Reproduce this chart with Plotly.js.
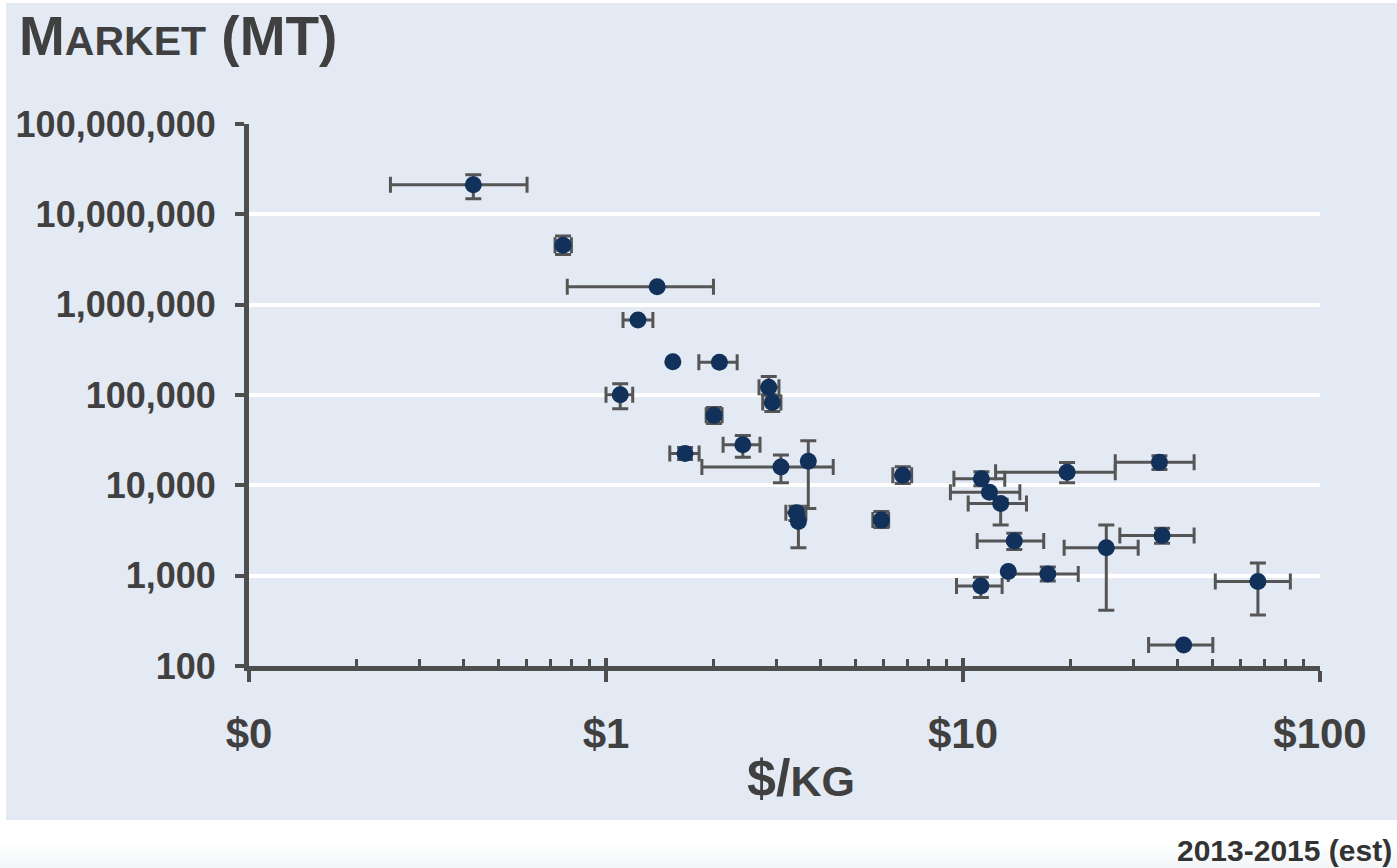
<!DOCTYPE html>
<html>
<head>
<meta charset="utf-8">
<script src="https://cdn.plot.ly/plotly-3.0.1.min.js"></script>
<style>
  html, body { margin: 0; padding: 0; background: #ffffff; }
  #wrap { position: relative; width: 1397px; height: 868px; overflow: hidden; }
  #bg { position: absolute; left: 6px; top: 3px; width: 1391px; height: 817px; background: #e3eaf4; }
  #fade { position: absolute; left: 0; top: 842px; width: 1397px; height: 26px;
          background: linear-gradient(#ffffff, #f2f4f6); }
  #chart { position: absolute; left: 0; top: 0; width: 1397px; height: 868px; }
</style>
</head>
<body>
<div id="wrap">
  <div id="bg"></div>
  <div id="fade"></div>
  <div id="chart"></div>
</div>
<script>
// Price ($/kg): central estimate, low and high of range
const price     = [0.425, 0.758, 1.391, 1.229, 1.539, 2.078, 1.096, 2.857, 2.923, 2.007, 2.417, 1.665, 3.09, 3.687, 3.415, 3.459, 6.78, 5.906, 11.26, 11.86, 12.75, 19.57, 35.5, 13.92, 25.2, 36.1, 13.39, 17.28, 11.22, 67.0, 41.5];
const priceLow  = [0.249, 0.72, 0.779, 1.116, 1.539, 1.82, 1.0, 2.683, 2.748, 1.908, 2.128, 1.509, 1.856, 3.687, 3.19, 3.459, 6.36, 5.59, 9.43, 9.22, 10.34, 12.34, 26.7, 10.96, 19.2, 27.5, 13.39, 13.39, 9.59, 50.9, 33.1];
const priceHigh = [0.601, 0.80, 2.0, 1.353, 1.539, 2.33, 1.188, 3.051, 3.09, 2.114, 2.70, 1.823, 4.33, 3.687, 3.63, 3.459, 7.18, 6.19, 13.09, 14.43, 15.06, 26.7, 44.4, 16.83, 30.95, 44.4, 13.39, 21.03, 12.87, 82.6, 50.1];
// Market size (MT): central estimate, low and high of range
const market     = [21.3e6, 4.56e6, 1.58e6, 677e3, 234e3, 231e3, 100.6e3, 122e3, 82.7e3, 59.5e3, 28.2e3, 22.5e3, 16.0e3, 18.5e3, 4.97e3, 3.99e3, 12.9e3, 4.12e3, 11.8e3, 8.40e3, 6.30e3, 13.96e3, 18.0e3, 2.42e3, 2.04e3, 2.79e3, 1110, 1045, 769, 861, 171];
const marketLow  = [14.9e6, 3.6e6, 1.58e6, 677e3, 234e3, 231e3, 70.5e3, 100.6e3, 65.8e3, 48.5e3, 20.4e3, 19.3e3, 10.7e3, 5.55e3, 4.09e3, 2.04e3, 10.5e3, 3.42e3, 9.88e3, 8.40e3, 3.63e3, 10.7e3, 14.96e3, 1.95e3, 415, 2.28e3, 1110, 875, 573, 366, 171];
const marketHigh = [27.5e6, 5.77e6, 1.58e6, 677e3, 234e3, 231e3, 133e3, 160e3, 99e3, 72.8e3, 35.7e3, 26.2e3, 21.7e3, 31.2e3, 5.87e3, 4.89e3, 16.1e3, 5.14e3, 14.1e3, 8.40e3, 7.0e3, 17.9e3, 21.3e3, 2.94e3, 3.63e3, 3.34e3, 1110, 1250, 960, 1380, 171];

const yTickVals = [100, 1000, 10000, 100000, 1000000, 10000000, 100000000];
const yTickText = ['100', '1,000', '10,000', '100,000', '1,000,000', '10,000,000', '100,000,000'];
const xTickVals = [0.1, 1, 10, 100];
const xTickText = ['$0', '$1', '$10', '$100'];
const xMinorVals = [];
[0.1, 1, 10].forEach(d => { for (let k = 2; k <= 9; k++) xMinorVals.push(+(k * d).toPrecision(3)); });

const axisColor = '#4d4d4d';
const textColor = '#404040';
const errColor = '#555555';
const markerColor = '#11305a';
const font = 'Liberation Sans, Arial, Helvetica, sans-serif';

// error bars (drawn first, underneath)
const errTrace = {
  type: 'scatter',
  mode: 'markers',
  x: price,
  y: market,
  marker: { color: markerColor, size: 1, opacity: 0 },
  error_x: {
    type: 'data', symmetric: false,
    array: price.map((v, i) => priceHigh[i] - v),
    arrayminus: price.map((v, i) => v - priceLow[i]),
    color: errColor, thickness: 3, width: 8
  },
  error_y: {
    type: 'data', symmetric: false,
    array: market.map((v, i) => marketHigh[i] - v),
    arrayminus: market.map((v, i) => v - marketLow[i]),
    color: errColor, thickness: 3, width: 8
  },
  hoverinfo: 'skip',
  showlegend: false
};

// markers on top
const pointTrace = {
  type: 'scatter',
  mode: 'markers',
  x: price,
  y: market,
  marker: { color: markerColor, size: 17, line: { width: 0 } },
  hoverinfo: 'x+y',
  showlegend: false
};

const dummy = { type: 'scatter', mode: 'markers', x: [], y: [], xaxis: 'x2', yaxis: 'y', showlegend: false, hoverinfo: 'skip' };

const layout = {
  width: 1397, height: 868,
  paper_bgcolor: 'rgba(0,0,0,0)',
  plot_bgcolor: 'rgba(0,0,0,0)',
  margin: { l: 249, r: 77, t: 124, b: 202, pad: 0 },
  font: { family: font, color: textColor },
  showlegend: false,
  title: {
    text: 'M<span style="font-size:41px">ARKET</span> (MT)',
    font: { family: font, size: 55, color: textColor, weight: 700 },
    xref: 'container', yref: 'container',
    x: 19 / 1397, xanchor: 'left',
    y: 1 - 36 / 868, yanchor: 'middle'
  },
  xaxis: {
    type: 'log', range: [-1, 2],
    tickmode: 'array', tickvals: xTickVals, ticktext: xTickText,
    ticks: 'outside', ticklen: 11, tickwidth: 4, tickcolor: axisColor,
    showline: true, linewidth: 5, linecolor: axisColor,
    showgrid: false, zeroline: false,
    tickfont: { family: font, size: 42, color: textColor, weight: 700 },
    ticklabelstandoff: 16,
    minor: { tickmode: 'array', tickvals: xMinorVals, ticks: 'inside', ticklen: 7, tickwidth: 3, tickcolor: axisColor, showgrid: false }
  },
  xaxis2: {
    type: 'log', range: [-1, 2], overlaying: 'x', anchor: 'y', side: 'bottom',
    tickmode: 'array', tickvals: xTickVals,
    ticks: 'inside', ticklen: 8, tickwidth: 4, tickcolor: axisColor,
    showticklabels: false, showline: false, showgrid: false, zeroline: false
  },
  yaxis: {
    type: 'log', range: [2, 8],
    tickmode: 'array', tickvals: yTickVals, ticktext: yTickText,
    ticks: 'outside', ticklen: 9, tickwidth: 4, tickcolor: axisColor,
    showline: true, linewidth: 5, linecolor: axisColor,
    showgrid: true, gridcolor: '#ffffff', gridwidth: 4, zeroline: false,
    tickfont: { family: font, size: 36, color: textColor, weight: 700 },
    ticklabelstandoff: 12
  },
  annotations: [
    {
      text: '<span style="font-size:52px">$/</span>KG',
      xref: 'paper', yref: 'paper',
      x: (801 - 249) / 1071, y: (666 - 778) / 542,
      xanchor: 'center', yanchor: 'middle', showarrow: false,
      font: { family: font, size: 43, color: textColor, weight: 700 }
    },
    {
      text: '2013-2015 (est)',
      xref: 'paper', yref: 'paper',
      x: (1394 - 249) / 1071, y: (666 - 850) / 542,
      xanchor: 'right', yanchor: 'middle', showarrow: false,
      font: { family: font, size: 30, color: '#333333', weight: 700 }
    }
  ]
};

Plotly.newPlot('chart', [errTrace, pointTrace, dummy], layout, { displayModeBar: false, staticPlot: true });
</script>
</body>
</html>
